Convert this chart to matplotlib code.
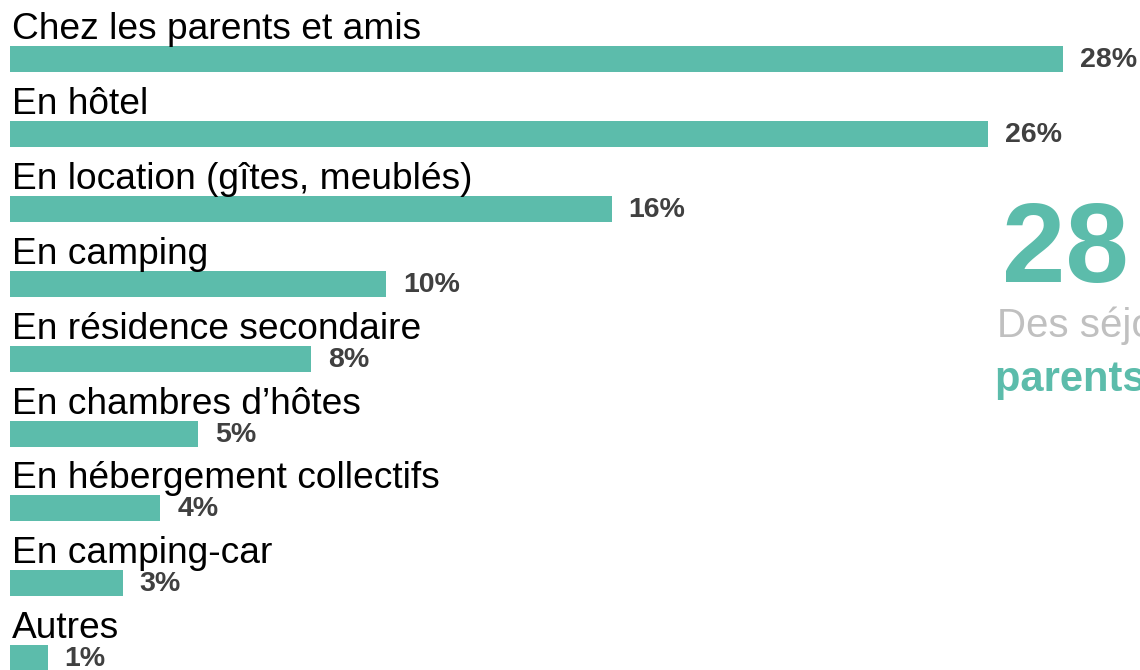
import matplotlib.pyplot as plt

# data
categories = ["Chez les parents et amis", "En hôtel", "En location (gîtes, meublés)",
              "En camping", "En résidence secondaire", "En chambres d\u2019hôtes",
              "En hébergement collectifs", "En camping-car", "Autres"]
values = [28, 26, 16, 10, 8, 5, 4, 3, 1]
value_labels = ["28%", "26%", "16%", "10%", "8%", "5%", "4%", "3%", "1%"]

teal = '#5cbcab'
grey = '#404040'

plt.rcParams['font.family'] = ['Liberation Sans', 'DejaVu Sans']

fig = plt.figure(figsize=(11.4, 6.7), dpi=100)
ax = fig.add_axes([0, 0, 1, 1])
ax.set_xlim(-10 / 37.6, 1130 / 37.6)
ax.set_ylim(670, 0)  # pixel-like vertical units, top down
ax.axis('off')

step = 74.9
bar_h = 26
for i, (cat, v, lab) in enumerate(zip(categories, values, value_labels)):
    yc = 59 + step * i
    ax.barh(yc, v, height=bar_h, left=0, color=teal)
    ax.text(0.05, yc - bar_h / 2 - 7, cat, fontsize=26.7, color='black',
            va='baseline', ha='left')
    ax.text(v + 17 / 37.6, yc + 1, lab, fontsize=20.5, fontweight='bold',
            color=grey, va='center', ha='left')

# callout on the right, running past the figure edge like the original
fig.text(1002 / 1140, 1 - 282 / 670, "28 %", fontsize=82, fontweight='bold',
         color=teal, va='baseline', ha='left')
fig.text(997 / 1140, 1 - 337 / 670, "Des séjours chez les", fontsize=29,
         color='#c0c0c0', va='baseline', ha='left')
fig.text(995 / 1140, 1 - 391 / 670, "parents et amis", fontsize=30,
         fontweight='bold', color=teal, va='baseline', ha='left')

plt.savefig("out.png")
plt.close()
